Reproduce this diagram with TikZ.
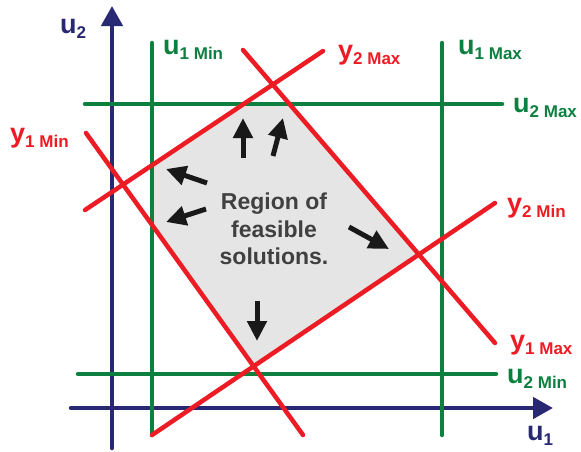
\documentclass[tikz,border=0pt]{standalone}
\usepackage{fontspec}
\setmainfont{Liberation Sans}
\usetikzlibrary{arrows.meta}
\definecolor{axisblue}{RGB}{40,40,115}
\definecolor{boundgreen}{RGB}{12,128,62}
\definecolor{outred}{RGB}{237,28,36}
\definecolor{regiongray}{RGB}{229,229,229}
\definecolor{textgray}{RGB}{64,64,64}
\newcommand{\limlab}[2]{#1\raisebox{-0.22em}{\fontsize{17}{17}\selectfont #2}}
\tikzset{
  axisline/.style={line width=4.5pt, axisblue, line cap=round, -{Triangle[length=20pt,width=21pt]}},
  inputline/.style={line width=4.5pt, boundgreen, line cap=round},
  outputline/.style={line width=4.5pt, outred, line cap=round},
  pusharrow/.style={line width=5pt, black!90, -{Triangle[length=20pt,width=19pt]}},
  limlabel/.style={inner sep=0pt, anchor=base west, font=\bfseries\fontsize{27}{27}\selectfont},
  regionlabel/.style={align=center, text=textgray, font=\bfseries\fontsize{23}{27.5}\selectfont}
}

\begin{document}
\begin{tikzpicture}[x=1pt, y=-1pt]
  \useasboundingbox (0,0) rectangle (581,451);
  % end points of the constraint lines
  \coordinate (u1min a) at (152,43);  \coordinate (u1min b) at (152,435);
  \coordinate (u1max a) at (442,43);  \coordinate (u1max b) at (442,435);
  \coordinate (u2max a) at (85,104);  \coordinate (u2max b) at (502,104);
  \coordinate (u2min a) at (78,374);  \coordinate (u2min b) at (496,374);
  \coordinate (y1min a) at (86,133);  \coordinate (y1min b) at (303,435);
  \coordinate (y1max a) at (243,50);  \coordinate (y1max b) at (495,343);
  \coordinate (y2max a) at (85,210);  \coordinate (y2max b) at (323,51);
  \coordinate (y2min a) at (152,435); \coordinate (y2min b) at (495,203);
  \coordinate (u1 a) at (71,408);     \coordinate (u1 b) at (553,408);
  \coordinate (u2 a) at (112,448);    \coordinate (u2 b) at (112,6);

  % corners of the feasible region
  \coordinate (ra) at (intersection of u1min a--u1min b and y2max a--y2max b);
  \coordinate (rb) at (intersection of y2max a--y2max b and u2max a--u2max b);
  \coordinate (rc) at (intersection of u2max a--u2max b and y1max a--y1max b);
  \coordinate (rd) at (intersection of y1max a--y1max b and y2min a--y2min b);
  \coordinate (re) at (intersection of y2min a--y2min b and y1min a--y1min b);
  \coordinate (rf) at (intersection of y1min a--y1min b and u1min a--u1min b);
  \fill[regiongray] (ra) -- (rb) -- (rc) -- (rd) -- (re) -- (rf) -- cycle;

  \draw[axisline] (u1 a) -- (u1 b);
  \draw[axisline] (u2 a) -- (u2 b);

  \draw[inputline] (u1min a) -- (u1min b);
  \draw[inputline] (u1max a) -- (u1max b);
  \draw[inputline] (u2max a) -- (u2max b);
  \draw[inputline] (u2min a) -- (u2min b);

  \draw[outputline] (y1min a) -- (y1min b);
  \draw[outputline] (y1max a) -- (y1max b);
  \draw[outputline] (y2max a) -- (y2max b);
  \draw[outputline] (y2min a) -- (y2min b);

  % arrows pointing at the limits
  \coordinate (p1 a) at (243,158); \coordinate (p1 b) at (243,118);
  \coordinate (p2 a) at (273,156); \coordinate (p2 b) at (283,118);
  \coordinate (p3 a) at (207,183); \coordinate (p3 b) at (166,169);
  \coordinate (p4 a) at (206,209); \coordinate (p4 b) at (166,222);
  \coordinate (p5 a) at (257,301); \coordinate (p5 b) at (257,341);
  \coordinate (p6 a) at (349,227); \coordinate (p6 b) at (389,249);
  \foreach \p in {p1,p2,p3,p4,p5,p6}
    \draw[pusharrow] (\p\space a) -- (\p\space b);

  \node[regionlabel] (region) at (274,229) {Region of\\feasible\\solutions.};

  \node[limlabel, text=axisblue] (u2lab) at (60,33) {\limlab{u}{2}};
  \node[limlabel, text=axisblue] (u1lab) at (527,440) {\limlab{u}{1}};
  \node[limlabel, text=boundgreen] (u1minlab) at (163,54) {\limlab{u}{1 Min}};
  \node[limlabel, text=boundgreen] (u1maxlab) at (458,54) {\limlab{u}{1 Max}};
  \node[limlabel, text=boundgreen] (u2maxlab) at (513,112) {\limlab{u}{2 Max}};
  \node[limlabel, text=boundgreen] (u2minlab) at (507,383) {\limlab{u}{2 Min}};
  \node[limlabel, text=outred] (y1minlab) at (10,142) {\limlab{y}{1 Min}};
  \node[limlabel, text=outred] (y2maxlab) at (338,59) {\limlab{y}{2 Max}};
  \node[limlabel, text=outred] (y2minlab) at (507,212) {\limlab{y}{2 Min}};
  \node[limlabel, text=outred] (y1maxlab) at (510,349) {\limlab{y}{1 Max}};
\end{tikzpicture}
\end{document}
